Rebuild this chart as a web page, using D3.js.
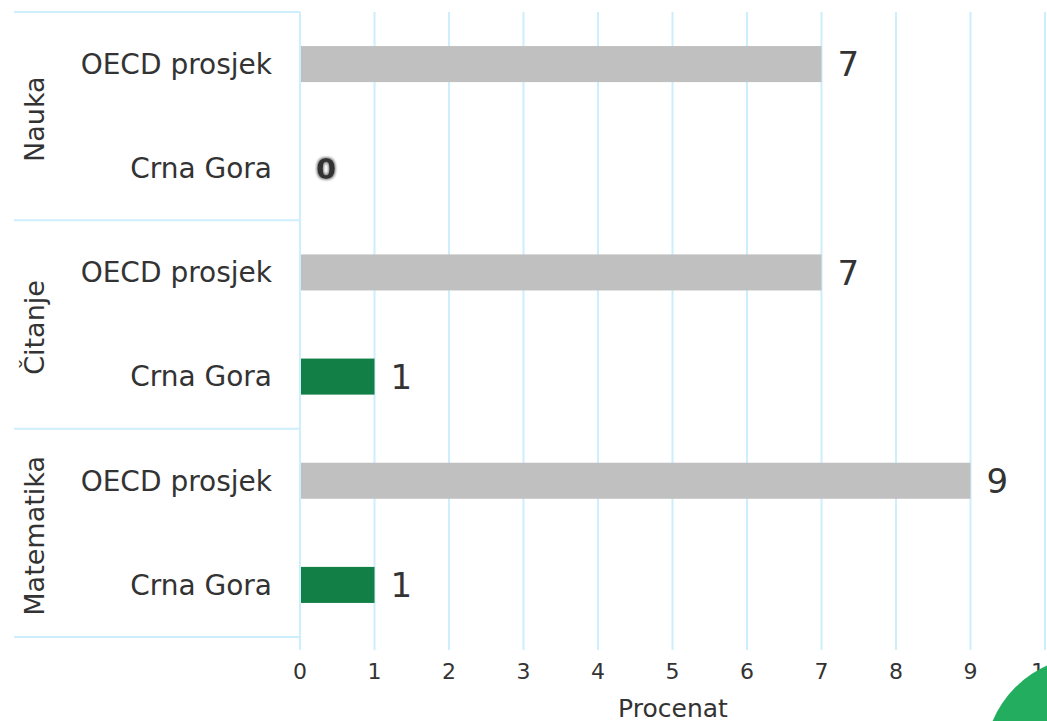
<!DOCTYPE html>
<meta charset="utf-8">
<style>
body { margin: 0; background: #fff; }
svg { display: block; font-family: "DejaVu Sans", Verdana, sans-serif; }
.grid line { stroke: #cdeefc; stroke-width: 2px; }
.tick-label { font-size: 22px; fill: #333; text-anchor: middle; }
.cat-label { font-size: 28px; fill: #333; text-anchor: end; }
.group-label { font-size: 27px; fill: #333; text-anchor: middle; }
.value-label { font-size: 34px; fill: #333; }
.value-zero { font-weight: bold; fill: #333; filter: url(#glow); }
</style>
<svg id="chart" width="1047" height="721"></svg>
<script src="https://cdnjs.cloudflare.com/ajax/libs/d3/7.8.5/d3.min.js"></script>
<script>

var groups = ["Nauka", "Čitanje", "Matematika"];
var series = ["OECD prosjek", "Crna Gora"];
var oecdValues = [7, 7, 9];
var cgValues = [0, 1, 1];
var tickValues = [0, 1, 2, 3, 4, 5, 6, 7, 8, 9, 10];
var seriesColors = ["#c0c0c0", "#117f46"];

var rows = [];
groups.forEach(function(g, i) {
  rows.push({ group: g, series: series[0], value: oecdValues[i], color: seriesColors[0] });
  rows.push({ group: g, series: series[1], value: cgValues[i], color: seriesColors[1] });
});

var svg = d3.select("#chart"),
    plotLeft = 300, plotRight = 1045, plotTop = 12, plotBottom = 637;

var defs = svg.append("defs");
var f = defs.append("filter").attr("id", "glow").attr("x", "-50%").attr("y", "-50%").attr("width", "200%").attr("height", "200%");
f.append("feMorphology").attr("in", "SourceAlpha").attr("operator", "dilate").attr("radius", 1).attr("result", "d");
f.append("feGaussianBlur").attr("in", "d").attr("stdDeviation", 1.3).attr("result", "b");
f.append("feFlood").attr("flood-color", "#888").attr("result", "c");
f.append("feComposite").attr("in", "c").attr("in2", "b").attr("operator", "in").attr("result", "s");
var m = f.append("feMerge");
m.append("feMergeNode").attr("in", "s");
m.append("feMergeNode").attr("in", "SourceGraphic");

var x = d3.scaleLinear().domain([0, 10]).range([plotLeft, plotRight]);

var y = d3.scaleBand()
    .domain(d3.range(rows.length))
    .range([plotTop, plotBottom])
    .paddingInner(0.654)
    .paddingOuter(0.327);

var step = (plotBottom - plotTop) / rows.length;

// vertical grid
svg.append("g").attr("class", "grid")
  .selectAll("line")
  .data(tickValues)
  .enter().append("line")
    .attr("x1", function(d) { return x(d); })
    .attr("x2", function(d) { return x(d); })
    .attr("y1", plotTop)
    .attr("y2", 650);

// group boxes on the left
var gLines = svg.append("g").attr("class", "grid");
d3.range(groups.length + 1).forEach(function(i) {
  gLines.append("line")
    .attr("x1", 14).attr("x2", plotLeft)
    .attr("y1", plotTop + i * step * 2).attr("y2", plotTop + i * step * 2);
});

svg.append("g").selectAll("text")
  .data(groups)
  .enter().append("text")
    .attr("class", "group-label")
    .attr("transform", function(d, i) {
      return "translate(35," + (plotTop + (i + 0.5) * step * 2 + 3) + ") rotate(-90)";
    })
    .attr("dy", "0.35em")
    .text(function(d) { return d; });

// category labels
svg.append("g").selectAll("text")
  .data(rows)
  .enter().append("text")
    .attr("class", "cat-label")
    .attr("x", 272)
    .attr("y", function(d, i) { return y(i) + y.bandwidth() / 2; })
    .attr("dy", "0.35em")
    .text(function(d) { return d.series; });

// bars
svg.append("g").selectAll("rect")
  .data(rows)
  .enter().append("rect")
    .attr("x", x(0) + 1)
    .attr("y", function(d, i) { return y(i); })
    .attr("width", function(d) { return Math.max(0, x(d.value) - x(0) - 1); })
    .attr("height", y.bandwidth())
    .attr("fill", function(d) { return d.color; });

// value labels
svg.append("g").selectAll("text")
  .data(rows)
  .enter().append("text")
    .attr("class", function(d) { return d.value === 0 ? "value-label value-zero" : "value-label"; })
    .attr("x", function(d) { return x(d.value) + (d.value === 0 ? 16 : 16); })
    .attr("y", function(d, i) { return y(i) + y.bandwidth() / 2; })
    .attr("dy", "0.36em")
    .style("font-size", function(d) { return d.value === 0 ? "29px" : null; })
    .text(function(d) { return d.value; });

// x tick labels
svg.append("g").selectAll("text")
  .data(tickValues)
  .enter().append("text")
    .attr("class", "tick-label")
    .attr("x", function(d) { return x(d); })
    .attr("y", 679)
    .text(function(d) { return d; });

svg.append("text")
  .attr("x", (plotLeft + plotRight) / 2 + 0.5)
  .attr("y", 717)
  .attr("text-anchor", "middle")
  .style("font-size", "25px")
  .style("fill", "#333")
  .text("Procenat");

// round green button peeking in at the corner
svg.append("circle")
  .attr("cx", 1091).attr("cy", 763).attr("r", 107)
  .attr("fill", "#22ad5f");

</script>
